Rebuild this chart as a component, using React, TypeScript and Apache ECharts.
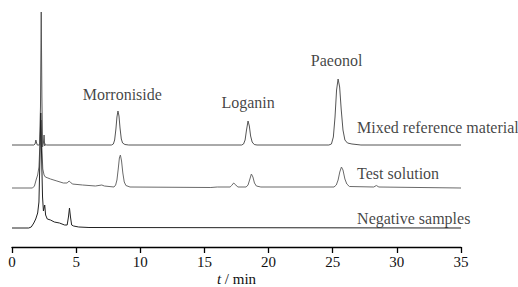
import React, { useEffect, useRef } from "react";
import * as echarts from "echarts";

// Retention time (min) vs. offset signal (arbitrary units)
const mixedReference: [number, number][] = [
  [0, 102], [1.7, 102], [1.8, 103], [1.86, 107], [1.92, 104], [1.97, 102], [2.15, 102],
  [2.22, 140], [2.28, 235], [2.33, 150], [2.38, 100], [2.45, 104], [2.5, 112], [2.55, 101],
  [2.6, 103], [2.7, 102], [7.75, 102], [7.9, 103], [8.0, 107], [8.1, 118], [8.18, 130],
  [8.26, 136], [8.34, 131], [8.42, 119], [8.52, 108], [8.62, 104], [8.8, 102.5], [9.1, 102],
  [17.9, 102], [18.05, 103], [18.17, 107], [18.28, 117], [18.4, 126], [18.5, 121],
  [18.6, 111], [18.72, 105], [18.88, 102.5], [19.1, 102],
  [24.7, 102], [24.9, 103], [25.05, 110], [25.18, 130], [25.3, 157], [25.42, 168],
  [25.54, 160], [25.66, 138], [25.8, 117], [25.95, 107], [26.15, 104], [26.5, 103],
  [27.2, 102], [35, 102],
];

const testSolution: [number, number][] = [
  [0, 59], [1.6, 59], [1.75, 61], [1.9, 68], [2.0, 72], [2.1, 80], [2.2, 110], [2.27, 127],
  [2.33, 100], [2.4, 78], [2.5, 72], [2.6, 70], [2.8, 69], [3.0, 68], [3.5, 66], [4.0, 64],
  [4.3, 64], [4.45, 66], [4.55, 65], [4.7, 63], [5.5, 62], [6.5, 61], [7.0, 62], [7.2, 61],
  [7.95, 60], [8.08, 62], [8.18, 67], [8.28, 78], [8.37, 89], [8.45, 92], [8.54, 86],
  [8.64, 74], [8.75, 65], [8.88, 61.5], [9.2, 60], [15.5, 59.5], [16.0, 60], [17.0, 60],
  [17.12, 61.5], [17.28, 64], [17.45, 62], [17.6, 60], [18.25, 60], [18.4, 62], [18.52, 67],
  [18.66, 73], [18.78, 70], [18.9, 64], [19.05, 61], [19.4, 60], [25.1, 60], [25.28, 62],
  [25.42, 67], [25.55, 75], [25.68, 80], [25.8, 77], [25.95, 68], [26.1, 63], [26.3, 60.5],
  [28.2, 60], [28.4, 61.5], [28.6, 60], [35, 59],
];

const negativeSamples: [number, number][] = [
  [0, 19], [1.3, 19], [1.5, 20], [1.7, 24], [1.85, 28], [2.0, 34], [2.1, 45], [2.18, 90],
  [2.24, 134], [2.3, 95], [2.38, 50], [2.45, 36], [2.55, 42], [2.62, 32], [2.75, 28],
  [3.0, 27], [3.3, 25], [3.7, 24], [4.1, 22], [4.3, 22], [4.4, 30], [4.48, 39], [4.56, 30],
  [4.65, 22], [4.8, 21], [5.2, 20], [6, 19.5], [35, 19],
];

// Peak names (centered) and trace names (left aligned)
const peakLabels: [number, number, string][] = [
  [8.6, 153, "Morroniside"],
  [18.4, 145, "Loganin"],
  [25.3, 187, "Paeonol"],
];
const traceLabels: [number, number, string][] = [
  [26.9, 120, "Mixed reference material"],
  [26.9, 74, "Test solution"],
  [26.9, 29, "Negative samples"],
];

const xTicks = [0, 5, 10, 15, 20, 25, 30, 35];

const FONT = "Times New Roman, Liberation Serif, DejaVu Serif, serif";

export default function App() {
  const ref = useRef<HTMLDivElement>(null);
  useEffect(() => {
    if (!ref.current) return;
    const chart = echarts.init(ref.current, undefined, { renderer: "svg" });
    const lineSeries = (data: [number, number][], color: string) => ({
      type: "line",
      data,
      showSymbol: false,
      symbol: "none",
      lineStyle: { color, width: 1 },
      silent: true,
    });
    chart.setOption({
      animation: false,
      textStyle: { fontFamily: FONT },
      grid: { left: 12, right: 57, top: 7, bottom: 40, containLabel: false, outerBoundsMode: "none" },
      xAxis: {
        type: "value",
        min: xTicks[0],
        max: xTicks[xTicks.length - 1],
        interval: 5,
        splitLine: { show: false },
        axisLine: { lineStyle: { color: "#000", width: 1.3 } },
        axisTick: { inside: false, length: 6, lineStyle: { color: "#000", width: 1.3 } },
        axisLabel: { color: "#111", fontSize: 15, fontFamily: FONT, margin: 7 },
        name: "{i|t} / min",
        nameLocation: "middle",
        nameGap: 24,
        nameMoveOverlap: false,
        nameTextStyle: {
          color: "#111",
          fontSize: 15,
          lineHeight: 15,
          fontFamily: FONT,
          rich: { i: { fontStyle: "italic", fontSize: 15, lineHeight: 15, fontFamily: FONT, color: "#111" } },
        },
      },
      yAxis: { type: "value", min: 0, max: 240, show: false },
      series: [
        lineSeries(mixedReference, "#555"),
        lineSeries(testSolution, "#6a6a6a"),
        lineSeries(negativeSamples, "#222"),
        {
          type: "scatter",
          symbolSize: 0,
          silent: true,
          data: peakLabels.map(([x, y, n]) => ({ value: [x, y], name: n })),
          label: {
            show: true,
            position: "inside",
            formatter: (p: any) => p.name,
            color: "#111",
            fontSize: 16,
            fontFamily: FONT,
          },
        },
        {
          type: "scatter",
          symbolSize: 0,
          silent: true,
          data: traceLabels.map(([x, y, n]) => ({ value: [x, y], name: n })),
          label: {
            show: true,
            position: "right",
            distance: 0,
            formatter: (p: any) => p.name,
            color: "#111",
            fontSize: 16,
            fontFamily: FONT,
          },
        },
      ],
    });
    return () => chart.dispose();
  }, []);
  return <div ref={ref} style={{ width: 518, height: 287, position: "absolute", left: 0, top: 0 }} />;
}
